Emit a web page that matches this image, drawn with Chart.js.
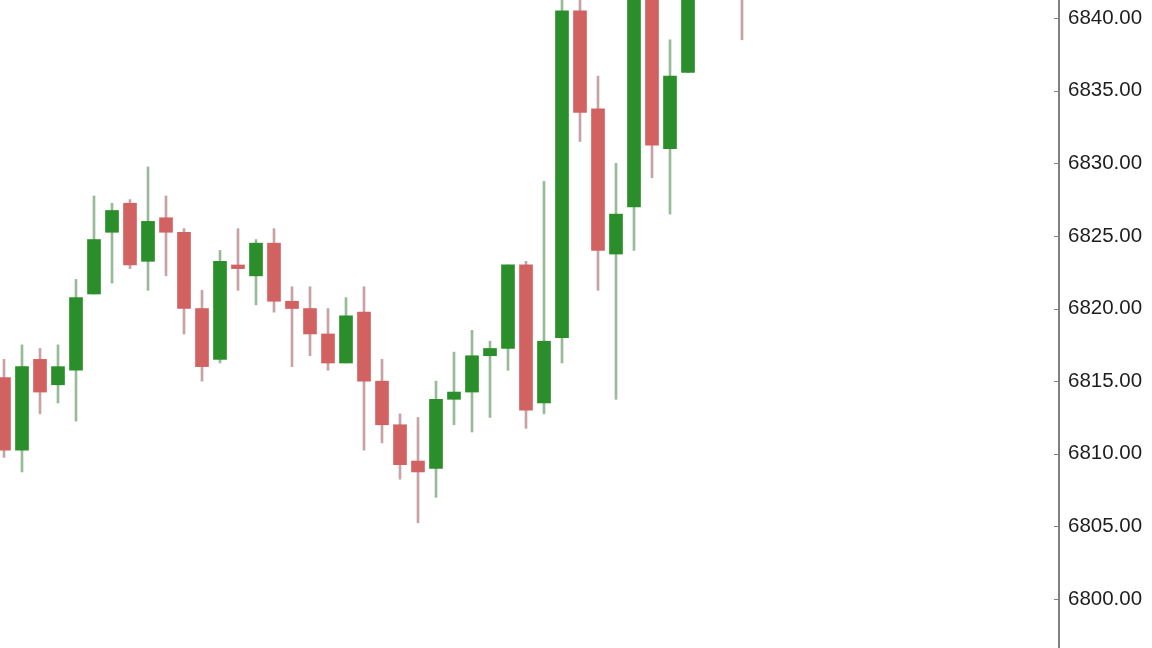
<!DOCTYPE html>
<html>
<head>
<meta charset="utf-8">
<script src="https://cdn.jsdelivr.net/npm/chart.js@4/dist/chart.umd.min.js"></script>
<style>
    html, body { margin: 0; padding: 0; background: #ffffff; }
    #wrap { width: 1152px; height: 648px; }
</style>
</head>
<body>
<div id="wrap"><canvas id="price-chart" width="1152" height="648"></canvas></div>
<script>
// candle data (bar index -> ohlc)
var opens  = [6815.25, 6810.25, 6816.5, 6814.75, 6815.75, 6821.0, 6825.25, 6827.25, 6823.25, 6826.25,
              6825.25, 6820.0, 6816.5, 6823.0, 6822.25, 6824.5, 6820.5, 6820.0, 6818.25, 6816.25,
              6819.75, 6815.0, 6812.0, 6809.5, 6809.0, 6813.75, 6814.25, 6816.75, 6817.25, 6823.0,
              6813.5, 6818.0, 6840.5, 6833.75, 6823.75, 6827.0, 6842.75, 6831.0, 6836.25, 6842.25,
              6845.5, 6844.25];
var highs  = [6816.5, 6817.5, 6817.25, 6817.5, 6822.0, 6827.75, 6827.25, 6827.5, 6829.75, 6827.75,
              6825.5, 6821.25, 6824.0, 6825.5, 6824.75, 6825.5, 6821.5, 6821.5, 6820.0, 6820.75,
              6821.5, 6816.5, 6812.75, 6812.5, 6815.0, 6817.0, 6818.5, 6817.75, 6823.0, 6823.25,
              6828.75, 6841.75, 6841.5, 6836.0, 6830.0, 6844.0, 6843.5, 6838.5, 6843.5, 6846.5,
              6847.0, 6845.5];
var lows   = [6809.75, 6808.75, 6812.75, 6813.5, 6812.25, 6821.0, 6821.75, 6822.75, 6821.25, 6822.25,
              6818.25, 6815.0, 6816.25, 6821.25, 6820.25, 6819.75, 6816.0, 6816.75, 6815.75, 6816.25,
              6810.25, 6810.75, 6808.25, 6805.25, 6807.0, 6812.0, 6811.5, 6812.5, 6815.75, 6811.75,
              6812.75, 6816.25, 6831.5, 6821.25, 6813.75, 6824.0, 6829.0, 6826.5, 6836.25, 6841.5,
              6842.5, 6838.5];
var closes = [6810.25, 6816.0, 6814.25, 6816.0, 6820.75, 6824.75, 6826.75, 6823.0, 6826.0, 6825.25,
              6820.0, 6816.0, 6823.25, 6822.75, 6824.5, 6820.5, 6820.0, 6818.25, 6816.25, 6819.5,
              6815.0, 6812.0, 6809.25, 6808.75, 6813.75, 6814.25, 6816.75, 6817.25, 6823.0, 6813.0,
              6817.75, 6840.5, 6833.5, 6824.0, 6826.5, 6843.0, 6831.25, 6836.0, 6842.25, 6845.5,
              6844.0, 6842.0];
var priceTicks = [6800, 6805, 6810, 6815, 6820, 6825, 6830, 6835, 6840];

var bodyData = [], wickData = [], bodyColors = [], wickColors = [];
for (var i = 0; i < opens.length; i++) {
    var up = closes[i] >= opens[i];
    bodyData.push({ x: i, y: [opens[i], closes[i]] });
    wickData.push({ x: i, y: [lows[i], highs[i]] });
    bodyColors.push(up ? '#2a8f2a' : '#d26262');
    wickColors.push(up ? '#97bb97' : '#c9a2a6');
}

// little tick marks pointing into the plot, left of the price axis
var axisTicks = {
    id: 'axisTicks',
    afterDraw: function(chart) {
        var ctx = chart.ctx, y = chart.scales.y, right = chart.chartArea.right;
        ctx.save();
        ctx.strokeStyle = '#808080';
        ctx.lineWidth = 1;
        priceTicks.forEach(function(v) {
            var py = Math.round(y.getPixelForValue(v)) + 0.5;
            ctx.beginPath();
            ctx.moveTo(right - 5, py);
            ctx.lineTo(right, py);
            ctx.stroke();
        });
        ctx.restore();
    }
};

var priceChartData = {
    type: 'bar',
    data: {
        datasets: [{
            label: 'body',
            data: bodyData,
            backgroundColor: bodyColors,
            barThickness: 13,
            grouped: false,
            clip: 0
        }, {
            label: 'wick',
            data: wickData,
            backgroundColor: wickColors,
            barThickness: 2,
            grouped: false,
            clip: 0
        }]
    },
    options: {
        responsive: false,
        animation: false,
        layout: { padding: 0 },
        plugins: {
            legend: { display: false },
            title: { display: false },
            tooltip: { enabled: false }
        },
        scales: {
            x: {
                type: 'linear',
                display: false,
                offset: false,
                min: -4 / 18,
                max: -4 / 18 + 1059 / 18
            },
            y: {
                position: 'right',
                min: 6796.63,
                max: 6841.24,
                beginAtZero: false,
                afterBuildTicks: function(scale) {
                    scale.ticks = priceTicks.map(function(v) { return { value: v }; });
                },
                afterFit: function(scale) {
                    // labels sit well inside the range, no need to pad the plot
                    scale.width = 93;
                    scale.paddingTop = 0;
                    scale.paddingBottom = 0;
                },
                border: { display: true, color: '#808080', width: 2 },
                grid: { display: false, drawTicks: false },
                ticks: {
                    padding: 9,
                    color: '#1e1e1e',
                    font: { family: "'Liberation Sans', Arial, sans-serif", size: 20.5 },
                    callback: function(v) { return Number(v).toFixed(2); }
                }
            }
        }
    },
    plugins: [axisTicks]
};

var priceChart = document.getElementById('price-chart').getContext('2d');
window.myCandles = new Chart(priceChart, priceChartData);
</script>
</body>
</html>
